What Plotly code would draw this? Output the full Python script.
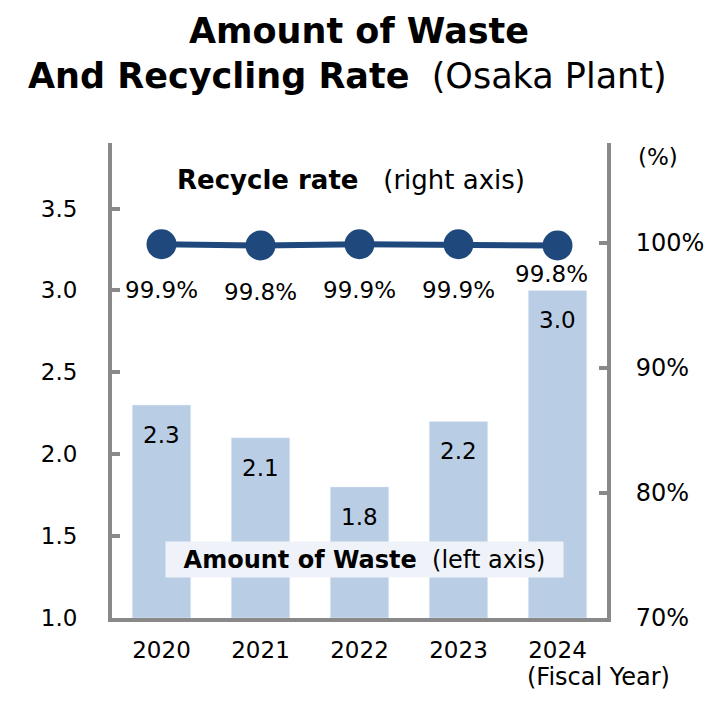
import plotly.graph_objects as go

years = [2020, 2021, 2022, 2023, 2024]
year_labels = ["2020", "2021", "2022", "2023", "2024"]
waste = [2.3, 2.1, 1.8, 2.2, 3.0]
waste_labels = ["2.3", "2.1", "1.8", "2.2", "3.0"]
recycle = [99.9, 99.8, 99.9, 99.9, 99.8]
recycle_labels = ["99.9%", "99.8%", "99.9%", "99.9%", "99.8%"]
left_ticks = [1.0, 1.5, 2.0, 2.5, 3.0, 3.5]
left_ticktext = ["1.0", "1.5", "2.0", "2.5", "3.0", "3.5"]
right_ticks = [70, 80, 90, 100]
right_ticktext = ["70%", "80%", "90%", "100%"]

FONT = "DejaVu Sans"
GREY = "#898989"
BAR = "#B9CDE5"
NAVY = "#1F497D"

# page has an 8px body margin; work in page pixels and convert
OFF = 8
W, H = 720 - 2 * OFF, 715 - 2 * OFF
PX0, PX1, PY0, PY1 = 112, 607, 143, 618  # plot area in page pixels
L = PX0 - OFF
R = W - (PX1 - OFF)
T = PY0 - OFF
B = H - (PY1 - OFF)
pw, ph = W - L - R, H - T - B


def px(x):
    return (x - PX0) / pw


def py(y):
    return (PY1 - y) / ph


fig = go.Figure()
fig.add_trace(go.Bar(x=years, y=[v - 1.0 for v in waste], base=1.0, marker_color=BAR,
                     width=0.59, hoverinfo="skip", showlegend=False))
fig.add_trace(go.Scatter(x=years, y=recycle, yaxis="y2", mode="lines+markers",
                         line=dict(color=NAVY, width=6),
                         marker=dict(color=NAVY, size=30), showlegend=False))

annotations = []
for x, v, t in zip(years, waste, waste_labels):
    annotations.append(dict(x=x, y=v, xref="x", yref="y", text=t, showarrow=False,
                            xanchor="center", yanchor="middle",
                            yshift=-30, font=dict(family=FONT, size=23, color="#000")))
for i, (x, v, t) in enumerate(zip(years, recycle, recycle_labels)):
    shift = -46 if i < 4 else -28
    xs = 0 if i < 4 else -6
    annotations.append(dict(x=x, y=v, xref="x", yref="y2", text=t, showarrow=False,
                            xanchor="center", yanchor="middle",
                            yshift=shift, xshift=xs,
                            font=dict(family=FONT, size=23, color="#000")))


def paper_note(x, y, text, size, **kw):
    d = dict(x=px(x), y=py(y), xref="paper", yref="paper", text=text, showarrow=False,
             xanchor="center", yanchor="middle",
             font=dict(family=FONT, size=size, color="#000"))
    d.update(kw)
    return d


annotations += [
    paper_note(359, 31, "<b>Amount of Waste</b>", 35),
    paper_note(347, 76, "<b>And Recycling Rate</b>  (Osaka Plant)", 35),
    paper_note(351, 180, "<b>Recycle rate</b>   (right axis)", 26),
    paper_note(364, 559, "<b>Amount of Waste</b>  (left axis)", 24,
               bgcolor="#EFF3F9", borderpad=4, width=389, height=27, align="center"),
    paper_note(658, 157, "(%)", 23),
    paper_note(598, 677, "(Fiscal Year)", 24),
]

fig.update_layout(
    width=W, height=H,
    margin=dict(l=L, r=R, t=T, b=B, autoexpand=False),
    paper_bgcolor="white", plot_bgcolor="white",
    font=dict(family=FONT, size=23, color="#000"),
    xaxis=dict(type="linear", range=[years[0] - 0.5, years[-1] + 0.5],
               tickvals=years, ticktext=year_labels,
               showline=True, linecolor=GREY, linewidth=4, ticks="",
               showgrid=False, zeroline=False,
               tickfont=dict(family=FONT, size=23, color="#000"),
               ticklabelstandoff=8, automargin=False),
    yaxis=dict(range=[1.0, 3.9], tickvals=left_ticks, ticktext=left_ticktext,
               showline=True, linecolor=GREY, linewidth=4, ticks="inside", ticklen=8,
               tickwidth=4, tickcolor=GREY, showgrid=False, zeroline=False,
               tickfont=dict(family=FONT, size=23, color="#000"), ticklabelstandoff=26,
               automargin=False),
    yaxis2=dict(range=[70, 108], tickvals=right_ticks, ticktext=right_ticktext,
                overlaying="y", side="right",
                showline=True, linecolor=GREY, linewidth=4, ticks="inside", ticklen=8,
                tickwidth=4, tickcolor=GREY, showgrid=False, zeroline=False,
                tickfont=dict(family=FONT, size=24, color="#000"), ticklabelstandoff=20,
                automargin=False),
    annotations=annotations,
    showlegend=False,
)

fig.write_html("out.html")
